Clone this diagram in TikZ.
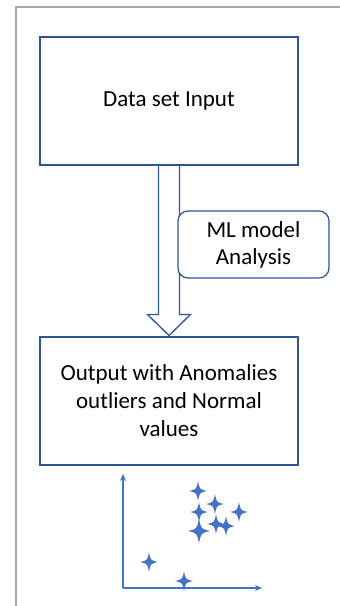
\documentclass[tikz,border=0pt]{standalone}
\usepackage{fontspec}
\setmainfont{Carlito}
\usetikzlibrary{calc,positioning,arrows.meta}
\definecolor{boxblue}{HTML}{2F5597}
\definecolor{plotblue}{HTML}{4472C4}
\definecolor{framegray}{HTML}{A6A6A6}
\tikzset{
  stage/.style={draw=boxblue, line width=2pt, minimum width=258pt, minimum height=128pt,
    align=center, font=\fontsize{23}{28}\selectfont},
  note/.style={draw=boxblue, line width=1.2pt, rounded corners=10pt, minimum width=151pt,
    minimum height=67pt, align=center, font=\fontsize{23}{27}\selectfont},
  hollow/.style={draw=boxblue, line width=1.3pt, fill=white},
  axis/.style={draw=plotblue, line width=1.5pt, -{Stealth[length=7pt,width=6pt]}},
  sparkle/.pic={
    \fill[plotblue] (0,-10) .. controls (1.6,-1.6) .. (9,0) .. controls (1.6,1.6) .. (0,10)
      .. controls (-1.6,1.6) .. (-9,0) .. controls (-1.6,-1.6) .. cycle;
  }
}
\begin{document}
\begin{tikzpicture}[x=1pt,y=-1pt]
\useasboundingbox (0,0) rectangle (340,606);
\draw[framegray, line width=1.5pt] (16,606) -- (16,7) -- (340,7);

\node[stage] (data) at (169,101) {Data set Input};
\node[stage] (out) at (169,400.5) {Output with Anomalies\\outliers and Normal\\values};

% hollow arrow between the two stages
\coordinate (neck) at ($(out.north)+(0,-21)$);
\draw[hollow] ($(data.south)+(-10.5,0)$) -- ($(neck)+(-10.5,0)$) -- ($(neck)+(-21.5,0)$)
  -- (out.north) -- ($(neck)+(21.5,0)$) -- ($(neck)+(10.5,0)$) -- ($(data.south)+(10.5,0)$);

\node[note, fill=white] (ml) at (253.5,244.5) {ML model\\Analysis};

% scatter plot
\coordinate (o) at (123,588);
\coordinate (ytip) at (123,474);
\coordinate (xtip) at (262,588);
\draw[axis] (o) -- (ytip);
\draw[axis] (o) -- (xtip);
\foreach \px/\py/\s in {198/491/1, 215/504/1, 199/512/1, 239/512/1, 199/531/1.25,
    216/524/1, 226/526/1, 149/562/1, 184/581/1}
  \pic[scale=\s] at (\px,\py) {sparkle};
\end{tikzpicture}
\end{document}
